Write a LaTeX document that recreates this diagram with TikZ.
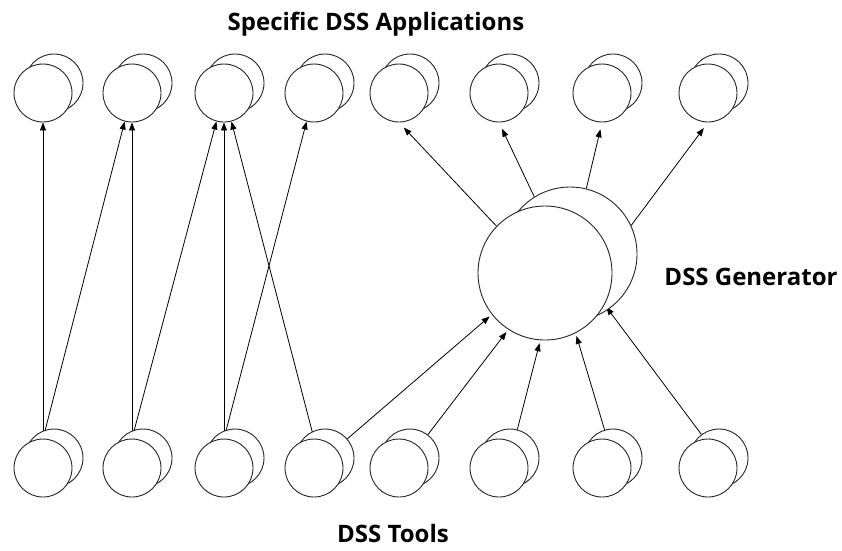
\documentclass[tikz,border=0pt]{standalone}
\usepackage{fontspec}
\setsansfont{Open Sans}
\usetikzlibrary{arrows.meta,backgrounds}

\tikzset{
  app/.style={circle, draw=black!85, fill=white, line width=0.9pt,
    minimum size=58pt, inner sep=0pt},
  gener/.style={app, minimum size=134pt},
  link/.style={line width=0.8pt, -{Triangle[length=8pt,width=6pt]}},
  lbl/.style={font=\sffamily\bfseries\fontsize{24}{28}\selectfont, inner sep=0pt}
}

\begin{document}
\begin{tikzpicture}[x=1pt,y=-1pt]
    \useasboundingbox (0,0) rectangle (842,550);

    % Applications (top row) and tools (bottom row), back copy drawn first
    \foreach \x [count=\i] in {43,132,224,314,399,499,602,708} {
      \node[app] (ta\i) at (\x+11,83) {};
      \node[app] (t\i) at (\x,93) {};
      \node[app] (ba\i) at (\x+11,458) {};
      \node[app] (b\i) at (\x,468) {};
    }

    % The generator in the middle
    \node[gener] (gena) at (570,254) {};
    \node[gener] (gen) at (545,273) {};

    % Labels
    \node[lbl, anchor=base] (apps) at (376,30) {Specific DSS Applications};
    \node[lbl, anchor=base] (genlbl) at (751,285) {DSS Generator};
    \node[lbl, anchor=base] (tools) at (393,542) {DSS Tools};

    \begin{scope}[on background layer]
      % Tools used directly for applications
      \draw[link] (b1.north) -- (t1);
      \draw[link] (b1.north) -- (t2);
      \draw[link] (b2.north) -- (t2);
      \draw[link] (b2.north) -- (t3);
      \draw[link] (b3.north) -- (t3);
      \draw[link] (b3.north) -- (t4);
      \draw[link] (b4.north) -- (t3);

      % Tools feeding the generator
      \draw[link, shorten >=3pt] (ba4) -- (gen.218);
      \draw[link, shorten >=3pt] (ba5) -- (gen.237);
      \draw[link, shorten >=3pt] (ba6) -- (gen.266);
      \draw[link, shorten >=3pt] (ba7) -- (gen.297);
      \draw[link, shorten >=3pt] (ba8) -- (gen.332);

      % Generator building the applications
      \draw[link, shorten >=7pt] (gen.136) -- (t5.south);
      \draw[link, shorten >=7pt] (gena.122) -- (t6.south);
      \draw[link, shorten >=7pt] (gena.76) -- (t7.south);
      \draw[link, shorten >=7pt] (gena.25) -- (t8.south);
    \end{scope}
\end{tikzpicture}
\end{document}
